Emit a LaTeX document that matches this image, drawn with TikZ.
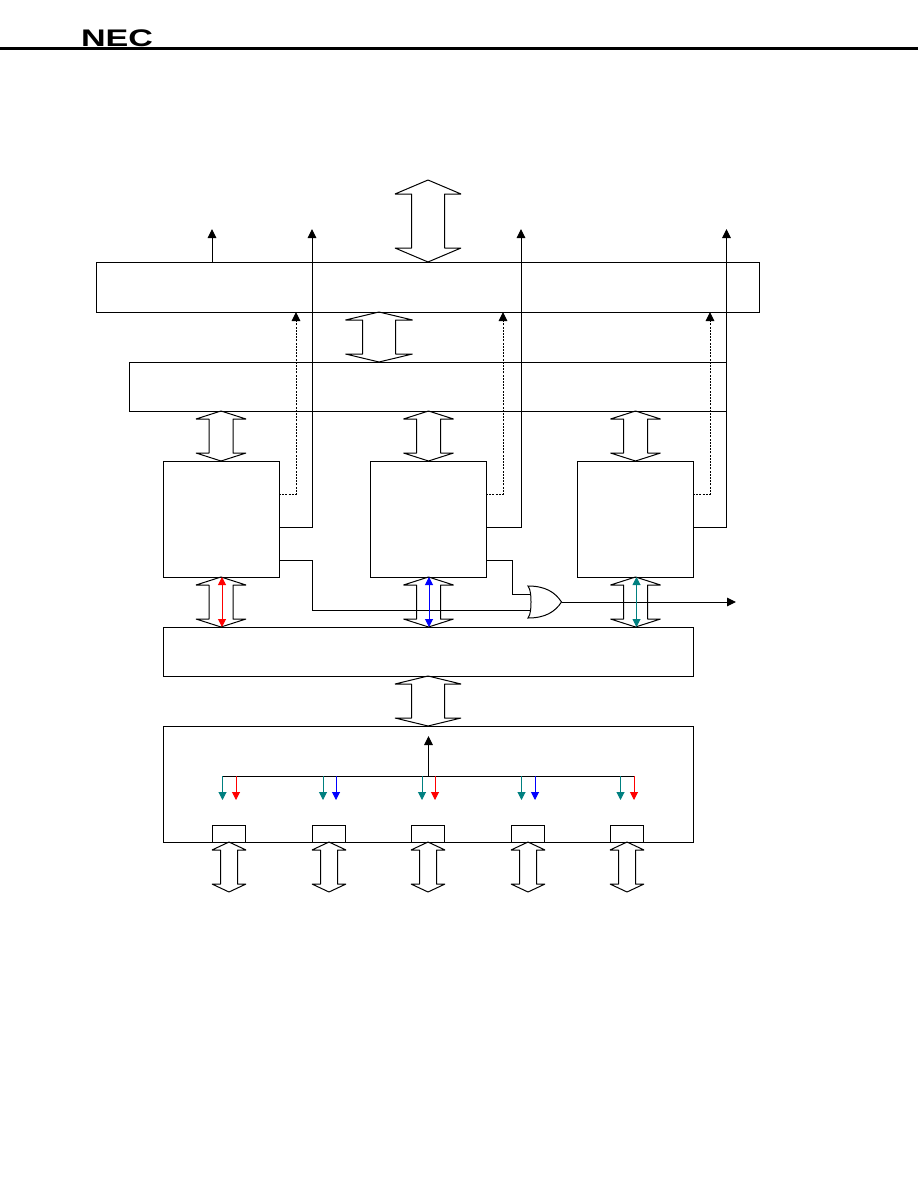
\documentclass[tikz,border=0pt]{standalone}
\usepackage{fontspec}
\setmainfont{Liberation Sans}
\usetikzlibrary{arrows.meta}
\definecolor{tealc}{HTML}{008080}
\definecolor{redc}{HTML}{FF0000}
\definecolor{bluec}{HTML}{0000FF}
\tikzset{
  every path/.style={line width=1pt},
  blockbox/.style={draw=black,fill=none,rectangle,inner sep=0pt,outer sep=0pt,line width=1pt},
  wire/.style={draw=black,line width=1pt,line join=miter},
  wirearrow/.style={wire,-{Triangle[length=9pt,width=8.5pt]}},
  dotwire/.style={wirearrow,dash pattern=on 2pt off 1.2pt},
  fatarrow/.style={draw=black,line width=1pt,line join=bevel},
  colsingle/.style={line width=1pt,-{Triangle[length=8pt,width=8pt]}},
  coldouble/.style={line width=1pt,{Triangle[length=8pt,width=8pt]}-{Triangle[length=8pt,width=8pt]}},
}
\newcommand{\pbox}[5]{\node[blockbox,minimum width={(#4-#2)*1pt},minimum height={(#5-#3)*1pt},anchor=north west] (#1) at (#2,#3) {};}
% cx, ytop, ybot, head half width, shaft half width, head length
\newcommand{\fatarr}[6]{\draw[fatarrow] (#1,#2) -- ({#1+#4},{#2+#6}) -- ({#1+#5},{#2+#6}) -- ({#1+#5},{#3-#6}) -- ({#1+#4},{#3-#6}) -- (#1,#3) -- ({#1-#4},{#3-#6}) -- ({#1-#5},{#3-#6}) -- ({#1-#5},{#2+#6}) -- ({#1-#4},{#2+#6}) -- cycle;}
\begin{document}
\begin{tikzpicture}[x=1pt,y=-1pt]
\useasboundingbox (0,0) rectangle (918,1188);
% header
\node[inner sep=0pt,font=\bfseries\fontsize{24}{24}\selectfont,xscale=1.42,anchor=center] (logo) at (117,38) {NEC};
\coordinate (ruleL) at (0,49);
\coordinate (ruleR) at (918,49);
\draw[line width=3pt] (ruleL) -- (ruleR);
% blocks
\pbox{A}{96}{262}{759}{312}
\pbox{B}{129}{362}{726}{411}
\pbox{C1}{163}{461}{279}{577}
\pbox{C2}{370}{461}{486}{577}
\pbox{C3}{577}{461}{693}{577}
\pbox{D}{163}{627}{693}{676}
\pbox{E}{163}{726}{693}{842}
\pbox{P1}{212}{825}{245}{842}
\pbox{P2}{312}{825}{345}{842}
\pbox{P3}{411}{825}{444}{842}
\pbox{P4}{511}{825}{544}{842}
\pbox{P5}{610}{825}{643}{842}
% fat double arrows
\fatarr{428}{180}{262}{33}{16.5}{14}
\fatarr{379}{312}{362}{33.5}{16.5}{8}
\fatarr{221}{411}{461}{25}{12}{8}
\fatarr{428.5}{411}{461}{25}{12}{8}
\fatarr{635.5}{411}{461}{25}{12}{8}
\fatarr{221}{577}{627}{25}{12}{8}
\fatarr{428.5}{577}{627}{25}{12}{8}
\fatarr{635.5}{577}{627}{25}{12}{8}
\fatarr{428}{676}{726}{33}{16.5}{8}
\fatarr{229}{842}{892}{17}{8.5}{8}
\fatarr{329}{842}{892}{17}{8.5}{8}
\fatarr{428}{842}{892}{17}{8.5}{8}
\fatarr{528}{842}{892}{17}{8.5}{8}
\fatarr{627}{842}{892}{17}{8.5}{8}
% top outputs
\coordinate (t0) at (212,229);
\coordinate (t1) at (312,229);
\coordinate (t2) at (521,229);
\coordinate (t3) at (726.5,229);
\draw[wirearrow] (A.north -| t0) -- (t0);
\draw[wirearrow] (C1.east |- 0,527) -| (t1);
\draw[wirearrow] (C2.east |- 0,527) -| (t2);
\draw[wirearrow] (C3.east |- 0,527) -| (t3);
% dotted
\coordinate (d1) at (296,312);
\coordinate (d2) at (503,312);
\coordinate (d3) at (710,312);
\draw[dotwire] (C1.east |- 0,494) -| (d1);
\draw[dotwire] (C2.east |- 0,494) -| (d2);
\draw[dotwire] (C3.east |- 0,494) -| (d3);
% OR gate
\coordinate (orA) at (530.5,594);
\coordinate (orB) at (530.5,610);
\coordinate (orO) at (561.5,602);
\coordinate (out) at (736,602);
\draw[wire] (528,586) .. controls (531,590) and (531,598) .. (531,602) .. controls (531,606) and (531,614) .. (528,618)
  .. controls (545,618) and (555,612) .. (orO) .. controls (555,592) and (545,586) .. (528,586) -- cycle;
\draw[wire] (C2.east |- 0,560) -- (512,560) |- (orA);
\draw[wire] (C1.east |- 0,560) -- (312.5,560) |- (orB);
\draw[wirearrow] (orO) -- (out);
% coloured double arrows
\coordinate (xr) at (222,0);
\coordinate (xb) at (429,0);
\coordinate (xt) at (636.5,0);
\draw[coldouble,redc] (C1.south -| xr) -- (D.north -| xr);
\draw[coldouble,bluec] (C2.south -| xb) -- (D.north -| xb);
\draw[coldouble,tealc] (C3.south -| xt) -- (D.north -| xt);
% bus in E
\coordinate (busL) at (222,776);
\coordinate (busR) at (634,776);
\coordinate (busT) at (428.5,736);
\draw[wire] (busL) -- (busR);
\draw[wirearrow] (428.5,776) -- (busT);
\foreach \xa/\col in {222.5/tealc,236/redc,323/tealc,336/bluec,422/tealc,435/redc,521.5/tealc,535/bluec,620.5/tealc,634/redc}{
  \draw[colsingle,\col] (\xa,776) -- (\xa,800);
}
\end{tikzpicture}
\end{document}
